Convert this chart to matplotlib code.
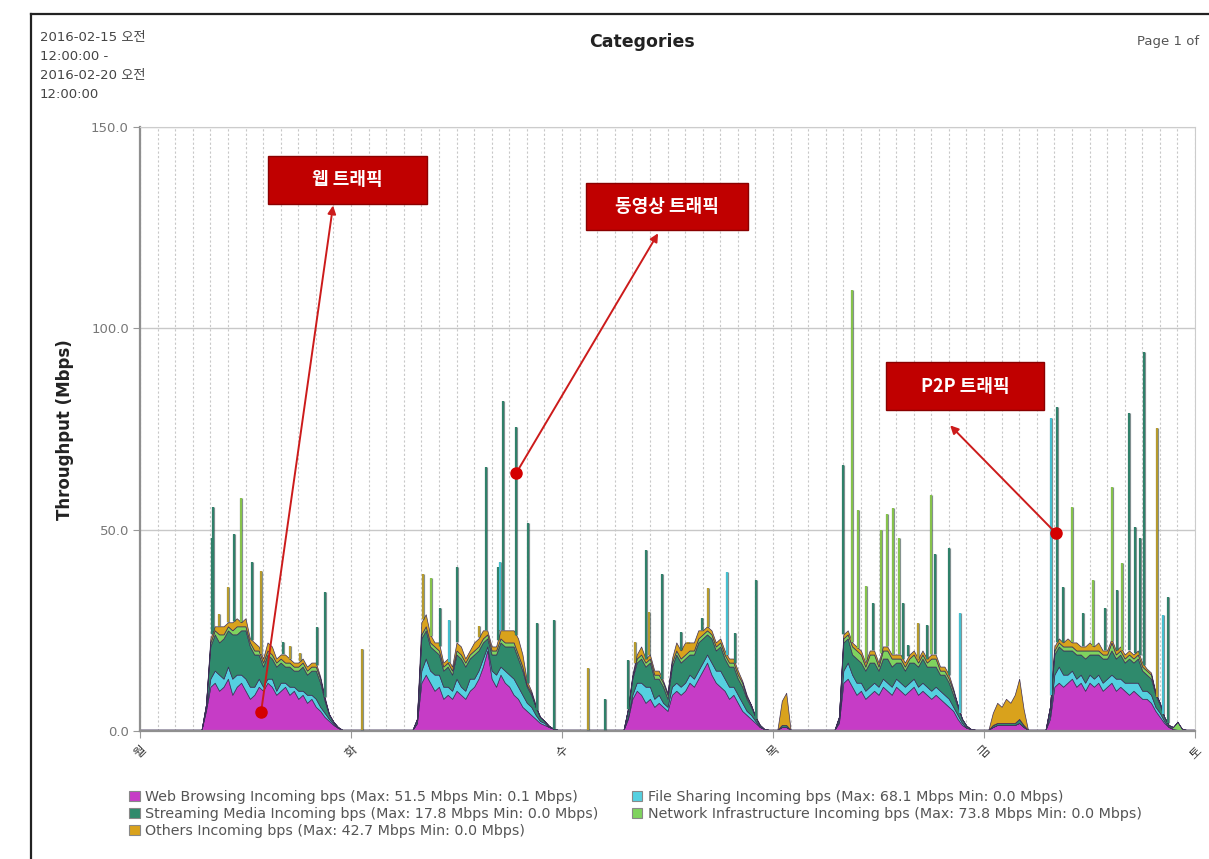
import numpy as np
import matplotlib
matplotlib.use("Agg")
import matplotlib.pyplot as plt
import matplotlib.patheffects as pe
from matplotlib.patches import Patch, Rectangle
from matplotlib.lines import Line2D

plt.rcParams['font.family'] = ['DejaVu Sans', 'Noto Sans CJK KR']

# ── Data: Mbps, 30-min samples, 2016-02-15 00:00 -> 2016-02-20 00:00 ─────────
hours = np.arange(0, 120.5, 0.5)

web_d1 = [0.3]*15 + [5, 11, 12, 10, 11, 13, 9, 11, 12, 10, 8, 9, 11, 10, 12, 11, 9, 10, 11, 9,
                     10, 8, 9, 7, 8, 6, 5, 3.5, 2.5, 1.5, 0.8, 0.3, 0.3]
web_d2 = [0.3]*15 + [2, 12, 14, 12, 10, 11, 8, 9, 8, 10, 9, 8, 10, 11, 13, 16, 20, 13, 11, 14,
                     12, 11, 9, 8, 6, 5, 4, 3, 2, 1.5, 1, 0.6, 0.3]
web_d3 = [0.3]*15 + [3, 8, 10, 9, 7, 8, 6, 7, 6, 5, 9, 10, 9, 10, 12, 11, 13, 15, 17, 14,
                     12, 11, 10, 8, 9, 7, 5, 4, 3, 2, 1, 0.5, 0.3]
web_d4 = [0.3, 0.3, 1, 1] + [0.3]*11 + [2, 12, 13, 11, 9, 10, 8, 9, 10, 9, 11, 10, 9, 11, 10, 9,
                                        10, 11, 9, 10, 9, 8, 9, 8, 7, 6, 5, 3, 1.5, 0.8, 0.5, 0.3, 0.3]
web_d5 = [0.3, 0.3, 1, 1.5, 1.5, 1.5, 1.5, 1.5, 2, 1, 0.3, 0.3, 0.3, 0.3, 0.3] + \
         [3, 11, 12, 11, 12, 13, 11, 12, 10, 12, 11, 12, 10, 11, 12, 10, 11, 10, 9, 10,
          9, 8, 8, 7, 5, 3.5, 2, 1, 0.5, 0.3, 0.3, 0.3, 0.3, 0.3]

file_d1 = [0]*15 + [0.5, 2, 3, 4, 2, 3, 4, 3, 2, 3, 3, 2, 2, 1, 1, 2, 1, 2, 1, 2,
                    1, 2, 1, 2, 1, 2, 1, 1, 0.5, 0.3, 0, 0, 0]
file_d2 = [0]*15 + [0, 3, 4, 3, 4, 3, 3, 2, 2, 3, 2, 2, 3, 2, 2, 2, 1, 2, 3, 2,
                    3, 3, 4, 3, 3, 2, 2, 1, 0.5, 0.5, 0, 0, 0]
file_d3 = [0]*15 + [0.5, 1, 2, 3, 4, 3, 2, 2, 1, 1, 2, 2, 2, 2, 2, 2, 2, 2, 2, 3,
                    3, 4, 3, 3, 2, 2, 2, 1, 1, 0.5, 0, 0, 0]
file_d4 = [0]*15 + [0.5, 3, 4, 3, 3] + [2]*21 + [1, 1, 0.5, 0, 0, 0, 0]
file_d5 = [0]*15 + [1, 3, 4, 3, 2, 2, 2, 2, 2, 2, 2, 2, 2, 2, 2, 3, 2, 2, 3, 2,
                    3, 2, 2, 2, 1, 1, 0.5] + [0]*7

stream_d1 = [0]*15 + [1, 8, 9, 8, 10, 9, 11, 10, 11, 12, 10, 8, 6, 5, 6, 5, 6, 5, 4, 5,
                      4, 5, 6, 5, 6, 7, 6, 3, 1, 0.5, 0.2, 0, 0]
stream_d2 = [0]*15 + [1, 8, 7, 6, 6, 5, 4, 5, 4, 6, 7, 6, 5, 6, 5, 4, 2, 4, 5, 6,
                      6, 7, 8, 7, 6, 4, 3, 2, 1, 0.5, 0.3, 0, 0]
stream_d3 = [0]*15 + [2, 4, 5, 6, 5, 6, 5, 4, 4, 2, 5, 7, 6, 6, 5, 6, 7, 6, 5, 6,
                      5, 6, 5, 5, 5, 4, 4, 3, 2, 1, 0.5, 0, 0]
stream_d4 = [0, 0, 0.5, 0.5] + [0]*11 + [1, 7, 6, 5, 6, 5, 5, 6, 5, 4, 5, 6, 5, 4, 5, 4, 5, 4,
                                         5, 6, 5, 6, 5, 4, 5, 4, 3, 2, 1, 0.5, 0, 0, 0]
stream_d5 = [0, 0, 0.5, 0.5, 0.5, 0.5, 0.5, 0.5, 1, 0.5, 0, 0, 0, 0, 0] + \
            [2, 5, 5, 6, 6, 5, 6, 5, 6, 5, 6, 5, 6, 5, 6, 5, 6, 5, 6, 5,
             6, 5, 4, 4, 3, 2, 1, 0.5] + [0]*6

net_d1 = [0]*16 + [1, 1, 2, 1, 1, 1, 2, 1, 1, 1, 1, 1, 1, 1, 1, 1, 1, 1, 1, 1,
                   1, 1, 1, 1, 1, 1] + [0.5, 0.2, 0, 0, 0, 0]
net_d2 = [0]*16 + [1]*24 + [0.5, 0.5] + [0]*6
net_d3 = [0]*15 + [0, 0.5] + [1]*25 + [0.5, 0.5, 0, 0, 0, 0]
net_d4 = [0]*16 + [1, 1, 2, 2, 2, 1, 2, 2, 1, 2, 2, 2, 1, 1, 1, 1, 2, 1, 1, 1,
                   2, 2, 1, 1, 1, 1] + [0.5] + [0]*5
net_d5 = [0]*16 + [1, 1, 1, 1, 1, 1, 1, 2, 1, 1, 1, 1, 1, 2, 1, 1, 1, 1, 1, 1,
                   1, 1, 1] + [0.5, 0.5, 0, 0, 0.5, 2, 0.3, 0, 0, 0]

oth_d1 = [0]*15 + [0, 1, 1, 2, 2, 1, 2, 2, 1, 2, 1, 2, 1, 1, 2, 2, 1, 1, 2, 1,
                   1, 1, 1, 1, 1, 1, 0.5, 0.5, 0, 0, 0, 0, 0]
oth_d2 = [0]*15 + [0, 3, 3, 2, 1, 2, 1, 1, 1, 2, 2, 1, 1, 2, 2, 2, 1, 1, 1, 2,
                   3, 3, 3, 4, 3, 1, 0.5, 0.5, 0, 0, 0, 0, 0]
oth_d3 = [0]*15 + [0, 0.5, 1, 2, 1, 1, 1, 1, 0.5, 0.5, 1, 2, 2, 3, 2, 2, 2, 1, 1, 1,
                   1, 1, 1, 1, 1, 1, 0.5, 0.5, 0, 0, 0, 0, 0]
oth_d4 = [0, 0, 6, 8] + [0]*12 + [1]*25 + [0.5] + [0]*6
oth_d5 = [0, 0, 3, 5, 4, 6, 5, 7, 10, 4, 0, 0, 0, 0, 0] + \
         [0, 1, 1, 1, 2, 1, 2, 1, 1, 2, 1, 2, 1, 1, 1, 1, 1, 1, 1, 1, 1, 1, 0.5, 0.5] + [0]*10

web = web_d1 + web_d2 + web_d3 + web_d4 + web_d5
file_sharing = file_d1 + file_d2 + file_d3 + file_d4 + file_d5
streaming = stream_d1 + stream_d2 + stream_d3 + stream_d4 + stream_d5
network = net_d1 + net_d2 + net_d3 + net_d4 + net_d5
others = oth_d1 + oth_d2 + oth_d3 + oth_d4 + oth_d5

# short bursts (hour, total Mbps reached, category)
spike_hour = [8.2, 8.3, 9.0, 10.0, 10.7, 11.5, 12.7, 13.8, 16.3, 17.1, 18.2, 20.1, 21.0, 25.3,
              32.2, 33.1, 34.1, 35.2, 36.0, 38.6, 39.4, 40.7, 41.0, 41.3, 42.8, 44.1, 45.2,
              47.1, 51.0, 52.9, 55.5,
              56.3, 57.5, 57.9, 59.4, 61.5, 62.3, 63.9, 64.6, 66.8, 67.7, 70.1,
              80.0, 81.0, 81.7, 82.6, 83.4, 84.3, 85.0, 85.7, 86.3, 86.8, 87.4, 88.5, 89.5,
              90.0, 90.4, 92.0, 93.3,
              103.6, 104.3, 105.0, 106.0, 107.3, 108.4, 109.8, 110.6, 111.1, 111.7, 112.5,
              113.2, 113.7, 114.2, 115.7, 116.4, 116.9]
spike_mbps = [47.9, 55.6, 29, 35.7, 49, 57.8, 42, 39.7, 22, 21, 19.4, 25.8, 34.5, 20.3,
              39, 38, 30.5, 27.5, 40.7, 26, 65.5, 40.7, 42, 82, 75.5, 51.6, 26.8,
              27.5, 15.6, 8, 17.6,
              22, 45, 29.6, 39.1, 24.5, 21.8, 28, 35.5, 39.5, 24.3, 37.5,
              66, 109.5, 55, 36, 31.7, 50, 54, 55.5, 48, 31.7, 21.3, 26.8, 26.3,
              58.6, 44, 45.4, 29.3,
              77.7, 80.4, 35.7, 55.6, 29.3, 37.5, 30.5, 60.5, 35, 41.7, 79,
              50.6, 48, 94, 75.2, 28.8, 33.2]
spike_cat = ['S', 'S', 'O', 'O', 'S', 'N', 'S', 'O', 'S', 'O', 'O', 'S', 'S', 'O',
             'O', 'N', 'S', 'F', 'S', 'O', 'S', 'S', 'F', 'S', 'S', 'S', 'S', 'S', 'O', 'S', 'S',
             'O', 'S', 'O', 'S', 'S', 'O', 'S', 'O', 'F', 'S', 'S',
             'S', 'N', 'N', 'N', 'S', 'N', 'N', 'N', 'N', 'S', 'S', 'O', 'S', 'N', 'S', 'S', 'F',
             'F', 'S', 'S', 'N', 'S', 'N', 'S', 'N', 'S', 'N', 'S', 'S', 'S', 'S', 'O', 'F', 'S']

legend_labels = [
    "Web Browsing Incoming bps (Max: 51.5 Mbps Min: 0.1 Mbps)",
    "File Sharing Incoming bps (Max: 68.1 Mbps Min: 0.0 Mbps)",
    "Streaming Media Incoming bps (Max: 17.8 Mbps Min: 0.0 Mbps)",
    "Network Infrastructure Incoming bps (Max: 73.8 Mbps Min: 0.0 Mbps)",
    "Others Incoming bps (Max: 42.7 Mbps Min: 0.0 Mbps)",
]
day_labels = ['월', '화', '수', '목', '금', '토']

# ── Palette ──────────────────────────────────────────────────────────────────
C_WEB    = "#c63cc6"
C_FILE   = "#55d0e0"
C_STREAM = "#2f8a6c"
C_NET    = "#7fd35e"
C_OTH    = "#d9a21c"
C_EDGE   = "#3d2f58"
C_RED    = "#c00000"
SPIKE_COL = {'S': "#2f8069", 'F': "#45bfcf", 'N': "#86c24c", 'O': "#b59a2e"}

W, H = 1209, 859
fig = plt.figure(figsize=(W / 100, H / 100), dpi=100)
ax = fig.add_axes([140 / W, 1 - 731 / H, (1195 - 140) / W, (731 - 127) / H])

ax.stackplot(hours, web, file_sharing, streaming, network, others,
             colors=[C_WEB, C_FILE, C_STREAM, C_NET, C_OTH],
             edgecolor=C_EDGE, linewidth=0.5, zorder=2)

total = np.sum([web, file_sharing, streaming, network, others], axis=0)
base = np.interp(spike_hour, hours, total)
ax.vlines(spike_hour, base, spike_mbps, colors=[SPIKE_COL[c] for c in spike_cat],
          linewidth=1.5, zorder=3,
          path_effects=[pe.Stroke(linewidth=2.3, foreground="#33474a", alpha=0.6), pe.Normal()])

# ── Axes styling ─────────────────────────────────────────────────────────────
ax.set_xlim(0, 120)
ax.set_ylim(0, 150)
ax.set_xticks(np.arange(0, 121, 24))
ax.set_xticks(np.arange(0, 121, 2), minor=True)
ax.set_xticklabels(day_labels, rotation=45, fontsize=9, color="#333333")
ax.set_yticks([0, 50, 100, 150])
ax.set_yticklabels([f"{v:.1f}" for v in [0, 50, 100, 150]], fontsize=9.5, color="#777777")
ax.tick_params(axis='x', which='major', length=5, color="#999999", pad=4)
ax.tick_params(axis='x', which='minor', length=0)
ax.tick_params(axis='y', length=5, color="#999999", pad=3)
ax.set_axisbelow(True)
ax.grid(axis='x', which='both', color="#c8c8c8", ls=(0, (2, 2)), lw=0.8)
ax.grid(axis='y', which='major', color="#c8c8c8", ls='-', lw=1.0)
for side in ['left', 'bottom']:
    ax.spines[side].set_color("#8f8f8f")
    ax.spines[side].set_linewidth(1.6)
for side in ['top', 'right']:
    ax.spines[side].set_color("#cccccc")
    ax.spines[side].set_linewidth(0.8)

# ── Annotations ──────────────────────────────────────────────────────────────
boxes = [("웹 트래픽", 14.56, 131.0, 18.1, 11.9),
         ("동영상 트래픽", 50.74, 124.3, 18.4, 11.9),
         ("P2P 트래픽", 84.87, 79.65, 17.9, 11.95)]
arrows = [((13.77, 4.7), (21.96, 130.5)),
          ((42.78, 64.0), (58.93, 123.6)),
          ((104.2, 49.1), (92.15, 75.9))]
for label, x0, y0, bw, bh in boxes:
    ax.add_patch(Rectangle((x0, y0), bw, bh, facecolor=C_RED, edgecolor="#8a0000",
                           lw=1.0, zorder=5))
    ax.text(x0 + bw / 2, y0 + bh / 2, label, color="white", fontsize=13, fontweight='bold',
            ha='center', va='center', zorder=6, family=['Noto Sans CJK KR', 'DejaVu Sans'])
for (sx, sy), (ex, ey) in arrows:
    ax.annotate('', xy=(ex, ey), xytext=(sx, sy),
                arrowprops=dict(arrowstyle='-|>', color="#cc1b1b", lw=1.4,
                                mutation_scale=12, shrinkA=0, shrinkB=0), zorder=6)
    ax.plot(sx, sy, 'o', ms=8, color="#d40000", zorder=7)

# ── Figure texts ─────────────────────────────────────────────────────────────
fig.text(642 / W, 1 - 42 / H, "Categories", ha='center', va='center',
         fontsize=12.5, fontweight='bold', color="#222222")
fig.text(1137 / W, 1 - 42 / H, "Page 1 of", ha='left', va='center',
         fontsize=9.5, color="#555555")
for i, line in enumerate(["2016-02-15 오전", "12:00:00 -", "2016-02-20 오전", "12:00:00"]):
    fig.text(40 / W, 1 - (38 + 19 * i) / H, line, ha='left', va='center',
             fontsize=9.5, color="#444444")
fig.text(65 / W, 1 - 430 / H, "Throughput (Mbps)", rotation=90, ha='center', va='center',
         fontsize=12, fontweight='bold', color="#222222")

# page frame
fig.add_artist(Line2D([31 / W, 31 / W], [0, 1 - 14 / H], color="#222222", lw=1.6,
                      transform=fig.transFigure))
fig.add_artist(Line2D([31 / W, 1], [1 - 14 / H, 1 - 14 / H], color="#222222", lw=1.6,
                      transform=fig.transFigure))

# ── Legend (two columns) ─────────────────────────────────────────────────────
colors = [C_WEB, C_FILE, C_STREAM, C_NET, C_OTH]
handles = [Patch(facecolor=c, edgecolor="#888888", lw=0.8) for c in colors]
order = [0, 2, 4, 1, 3]
fig.legend([handles[i] for i in order], [legend_labels[i] for i in order],
           ncol=2, loc='upper left', bbox_to_anchor=(116 / W, 1 - 777 / H),
           frameon=False, fontsize=10.3, handlelength=0.75, handleheight=0.75,
           handletextpad=0.4, labelspacing=0.22, columnspacing=2.3,
           labelcolor="#555555")

fig.savefig("out.png", dpi=100)
